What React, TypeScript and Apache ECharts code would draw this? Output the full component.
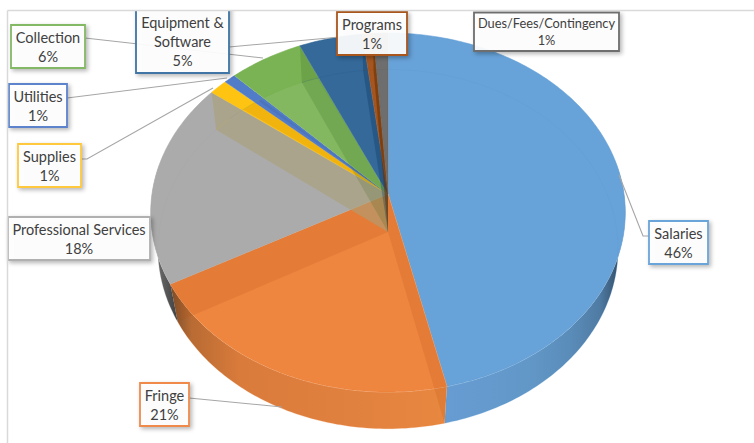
import React, { useEffect, useRef } from "react";
import * as echarts from "echarts";

const categories = ["Salaries", "Fringe", "Professional Services", "Supplies", "Utilities", "Collection", "Equipment & Software", "Programs", "Dues/Fees/Contingency"];
const values = [46.4, 20.6, 18.4, 1.4, 0.9, 5.6, 4.8, 0.8, 1.1];

const sliceColors = ["91,155,213", "237,125,49", "165,165,165", "255,192,0", "68,114,196", "112,173,71", "37,94,145", "158,72,14", "99,99,99"];
const borderColors = ["#6aa5da", "#f08a4b", "#b0b0b0", "#ffc83d", "#5b83cc", "#83b965", "#3f74a6", "#a9561f", "#6e6e6e"];
const edgeOverlays = [null, "rgba(175,80,10,0.17)", "rgba(175,80,10,0.17)", "rgba(172,160,120,0.6)", null, null, "rgba(40,90,20,0.17)", "rgba(10,50,90,0.3)", "rgba(100,45,0,0.55)"];
const innerTints = [null, null, null, "rgba(190,120,0,0.22)", "rgba(0,0,0,0.06)", "rgba(255,255,255,0.07)", null, null, null];
const wallStops: ([number, string][] | null)[] = [
  [[0, "#669cd2"], [0.45, "#6298c8"], [0.7, "#5a8cb9"], [0.86, "#4f7ba3"], [1, "#2c4258"]],
  [[0, "#7a4f30"], [0.07, "#b86b33"], [0.25, "#d97b3b"], [0.6, "#e0803f"], [1, "#e8873f"]],
  [[0, "#7a7a7a"], [1, "#3f3f3f"]],
  null, null, null, null, null, null,
];
const wallRanges = [[445, 625], [172, 445], [150, 178]];

// label layout: x, y, width, height, font size, line height
const labelBoxes = [
  [649, 221, 59, 43, 14.5, 19],
  [140, 383, 49, 43, 14.5, 19],
  [8, 217, 142, 43, 14.5, 19],
  [18, 144, 63, 43, 14.5, 19],
  [9, 84, 58, 43, 14.5, 19],
  [11, 25, 74, 43, 14.5, 19],
  [136, 4, 93, 69, 14.5, 19],
  [337, 12, 70, 43, 14.5, 19],
  [474, 12.5, 145, 38.5, 12.8, 17],
];
const labelNames = ["Salaries", "Fringe", "Professional Services", "Supplies", "Utilities", "Collection", "Equipment &\nSoftware", "Programs", "Dues/Fees/Contingency"];
const labelTextTop = [null, null, null, null, null, null, 13, null, null];
const leaders = [
  [[619, 175], [643, 236], [649, 236]],
  [[189, 398], [282, 407]],
  null,
  [[81, 159], [87, 159], [213, 88]],
  [[67, 98], [227, 78]],
  [[85, 38], [263, 58]],
  [[229, 47], [340, 37]],
  null,
  null,
];

const TOP = { A: 236, B: 177.6, y0: 194, k: 0.103 };
const BOTTOM = { A: 229, B: 178, y0: 232, k: 0.095 };
const CX = 388;
const total = values.reduce((a, b) => a + b, 0);
const starts: number[] = [];
values.reduce((acc, v, i) => { starts[i] = acc; return acc + v; }, 0);
const toAngle = (share: number) => (share / total) * Math.PI * 2;

type Layer = typeof TOP;
function rim(theta: number, l: Layer): number[] {
  const u = Math.sin(theta), v = Math.cos(theta), w = 1 + l.k * v;
  return [CX + (l.A * u) / w, l.y0 - (l.B * v) / w];
}
function arc(a: number, b: number, l: Layer): number[][] {
  const n = Math.max(2, Math.ceil((b - a) / (Math.PI / 180)));
  const pts: number[][] = [];
  for (let i = 0; i <= n; i++) pts.push(rim(a + ((b - a) * i) / n, l));
  return pts;
}
const apex = (l: Layer) => [CX, l.y0];
const range = (i: number) => [toAngle(starts[i]), toAngle(starts[i] + values[i])];
const imgAngle = (p: number[]) => {
  const t = Math.atan2(p[0] - CX, TOP.y0 - p[1]);
  return t < 0 ? t + Math.PI * 2 : t;
};

const sliceData = categories.map((name, i) => ({ name, value: values[i] }));

function wallLayer(params: any) {
  const i = params.dataIndex;
  const stops = wallStops[i];
  if (!stops) return { type: "group", children: [] };
  const [a0, b0] = range(i);
  const a = Math.max(a0, (80 * Math.PI) / 180);
  const b = Math.min(b0, (280 * Math.PI) / 180);
  const pts = [...arc(a, b, TOP), ...arc(a, b, BOTTOM).reverse()];
  const [x0, x1] = wallRanges[i];
  const fill = new echarts.graphic.LinearGradient(x0, 0, x1, 0, stops.map(([offset, color]) => ({ offset, color })), true);
  return { type: "polygon", shape: { points: pts }, style: { fill, stroke: "none" } };
}

function topLayer(params: any) {
  const i = params.dataIndex;
  const [a, b] = range(i);
  const pts = [apex(TOP), ...arc(a, b, TOP)];
  return {
    type: "group",
    children: [
      { type: "polygon", shape: { points: pts }, style: { fill: "#ffffff", stroke: "#ffffff", lineWidth: 0.4 } },
      {
        type: "polygon",
        shape: { points: pts },
        style: { fill: `rgba(${sliceColors[i]},0.93)`, stroke: `rgba(${sliceColors[i]},0.9)`, lineWidth: 0.6 },
      },
    ],
  };
}

function innerLayer(params: any) {
  const i = params.dataIndex;
  const children: any[] = [];
  const tint = innerTints[i];
  const [a, b] = range(i);
  if (tint) {
    const lo = imgAngle(rim(a, TOP)), hi = imgAngle(rim(b, TOP));
    const pts = arc(Math.PI * 1.2, Math.PI * 1.99, BOTTOM)
      .filter((p) => p[1] < TOP.y0 && imgAngle(p) >= lo && imgAngle(p) <= hi)
      .sort((p, q) => imgAngle(p) - imgAngle(q));
    if (pts.length > 1) children.push({ type: "polygon", shape: { points: [apex(TOP), ...pts] }, style: { fill: tint, stroke: "none" } });
  }
  children.push({
    type: "polyline",
    shape: { points: arc(a, b, BOTTOM) },
    style: { fill: "none", stroke: `rgba(${sliceColors[i]},0.3)`, lineWidth: 0.8 },
  });
  return { type: "group", children };
}

function edgeLayer(params: any) {
  const i = params.dataIndex;
  const overlay = edgeOverlays[i];
  if (!overlay) return { type: "group", children: [] };
  const t = range(i)[0];
  return {
    type: "polygon",
    shape: { points: [apex(TOP), rim(t, TOP), rim(t, BOTTOM), apex(BOTTOM)] },
    style: { fill: overlay, stroke: "none" },
  };
}

function leaderLayer(params: any) {
  const pts = leaders[params.dataIndex];
  if (!pts) return { type: "group", children: [] };
  return { type: "polyline", shape: { points: pts }, style: { fill: "none", stroke: "#a6a6a6", lineWidth: 1.1 } };
}

function labelLayer(params: any) {
  const i = params.dataIndex;
  const [x, y, w, h, size, lh] = labelBoxes[i];
  const pct = Math.round((values[i] / total) * 100);
  const text = `${labelNames[i]}\n${pct}%`;
  const top = labelTextTop[i];
  return {
    type: "group",
    children: [
      {
        type: "rect",
        shape: { x, y, width: w, height: h },
        style: {
          fill: "rgba(255,255,255,0.92)",
          stroke: borderColors[i],
          lineWidth: 1.8,
          shadowBlur: 4,
          shadowOffsetX: 2,
          shadowOffsetY: 2,
          shadowColor: "rgba(0,0,0,0.3)",
        },
      },
      {
        type: "text",
        style: {
          text,
          x: x + w / 2,
          y: top != null ? top : y + h / 2,
          align: "center",
          verticalAlign: top != null ? "top" : "middle",
          fontFamily: "Lato",
          fontSize: size,
          lineHeight: lh,
          fill: "#404040",
        },
      },
    ],
  };
}

const layer = (renderItem: any, z: number) => ({
  type: "custom",
  coordinateSystem: "none",
  silent: true,
  z,
  clip: false,
  data: sliceData,
  renderItem,
});

export default function App() {
  const ref = useRef<HTMLDivElement>(null);
  useEffect(() => {
    document.body.style.margin = "0";
    const chart = echarts.init(ref.current!, undefined, { renderer: "svg" });
    chart.setOption({
      animation: false,
      backgroundColor: "#ffffff",
      graphic: [
        { type: "rect", z: 20, shape: { x: 0, y: 0, width: 754, height: 10 }, style: { fill: "#ffffff" } },
        { type: "line", z: 21, shape: { x1: 7.5, y1: 10.5, x2: 754, y2: 10.5 }, style: { stroke: "#d9d9d9", lineWidth: 1.5 } },
        { type: "line", z: 21, shape: { x1: 7.5, y1: 10.5, x2: 7.5, y2: 443 }, style: { stroke: "#d9d9d9", lineWidth: 1.5 } },
      ],
      series: [
        layer(wallLayer, 1),
        layer(topLayer, 2),
        layer(innerLayer, 3),
        layer(edgeLayer, 4),
        layer(leaderLayer, 5),
        layer(labelLayer, 6),
      ],
    });
    return () => chart.dispose();
  }, []);
  return <div ref={ref} style={{ position: "absolute", left: 0, top: 0, width: 754, height: 443 }} />;
}
